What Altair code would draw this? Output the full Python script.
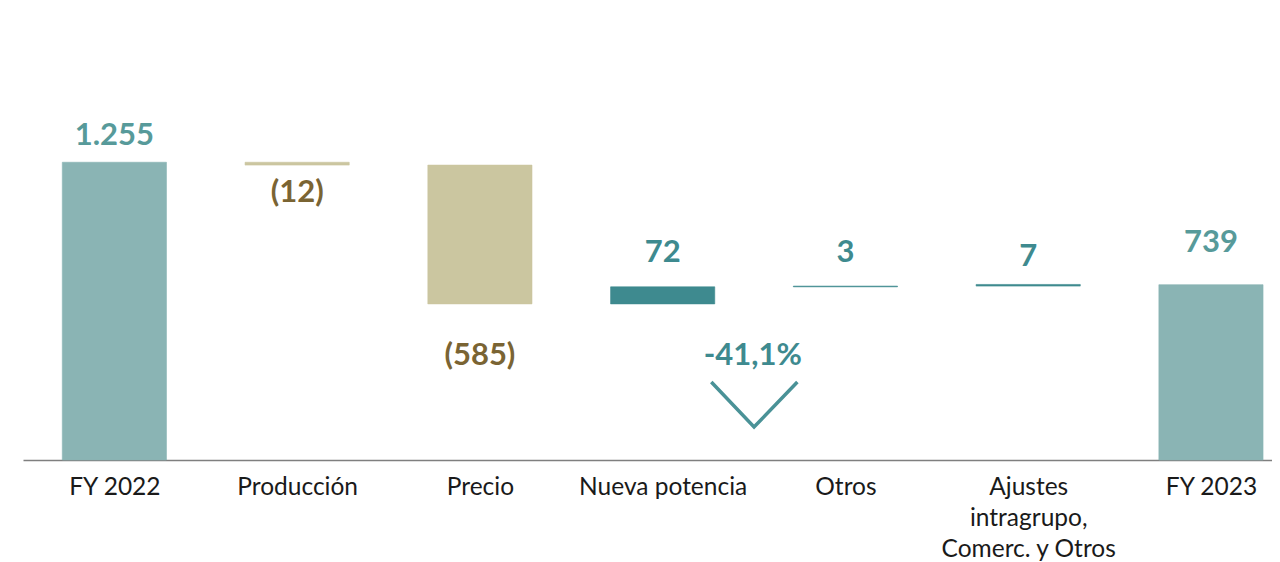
import altair as alt
import pandas as pd

# ---- data ----
categories = ["FY 2022", "Producción", "Precio", "Nueva potencia", "Otros",
              "Ajustes\nintragrupo,\nComerc. y Otros", "FY 2023"]
values = [1255, -12, -585, 72, 3, 7, 739]
kinds = ["total", "decrease", "decrease", "increase", "increase", "increase", "total"]
value_labels = ["1.255", "(12)", "(585)", "72", "3", "7", "739"]
change_label = "-41,1%"

# ---- styles ----
bar_colors = {"total": "#8ab4b4", "decrease": "#cbc6a0", "increase": "#3e8a8f"}
text_colors = {"total": "#579a9a", "decrease": "#7a6433", "increase": "#3e8a8f"}
label_gap_px = [26, 28, 52, 34, 33, 27, 42]

PLOT_W, PLOT_H = 1249, 344
Y_MAX = 1450
X_DOM = [-0.5, 6.334]
HALF_BAR = 0.285
px_per_unit = PLOT_H / Y_MAX

rows = []
running = 0
for i, (cat, v, k, lab) in enumerate(zip(categories, values, kinds, value_labels)):
    if k == "total":
        start, end = 0, v
        running = v
    else:
        start, end = running, running + v
        running = end
    lo, hi = min(start, end), max(start, end)
    gap = label_gap_px[i] / px_per_unit
    ly = lo - gap if k == "decrease" else hi + gap
    rows.append(dict(idx=i, x0=i - HALF_BAR, x1=i + HALF_BAR, start=start, end=end,
                     kind=k, label=lab, label_y=ly))
df = pd.DataFrame(rows)

label_arrays = "[" + ",".join(
    "[" + ",".join("'" + part + "'" for part in c.split("\n")) + "]" for c in categories
) + "][datum.value]"

xscale = alt.Scale(domain=X_DOM, nice=False, zero=False)
yscale = alt.Scale(domain=[0, Y_MAX], nice=False)

kind_order = ["total", "decrease", "increase"]

bars = alt.Chart(df).mark_rect(strokeWidth=0.6).encode(
    x=alt.X("x0:Q", scale=xscale, axis=alt.Axis(
        values=list(range(len(categories))), labelExpr=label_arrays, title=None,
        ticks=False, grid=False, domainColor="#7f7f7f", domainWidth=1.5,
        labelFont="Lato", labelFontSize=24.5, labelColor="#1a1a1a",
        labelPadding=15, labelLineHeight=31, labelBaseline="top",
        labelOverlap=False, labelBound=False, labelFlush=False)),
    x2="x1:Q",
    y=alt.Y("start:Q", scale=yscale, axis=None),
    y2="end:Q",
    color=alt.Color("kind:N", scale=alt.Scale(domain=kind_order,
                    range=[bar_colors[k] for k in kind_order]), legend=None),
    stroke=alt.Stroke("kind:N", scale=alt.Scale(domain=kind_order,
                      range=[bar_colors[k] for k in kind_order]), legend=None),
)

texts = alt.Chart(df).mark_text(font="Lato", fontWeight="bold", fontSize=31,
                                baseline="middle", align="center").encode(
    x=alt.X("idx:Q", scale=xscale),
    y=alt.Y("label_y:Q", scale=yscale),
    text="label:N",
    color=alt.Color("kind:N", scale=alt.Scale(domain=kind_order,
                    range=[text_colors[k] for k in kind_order]), legend=None),
)

# change annotation: chevron between "Nueva potencia" and "Otros"
chev_x = [3.266, 3.5, 3.737]
chev_y = [329, 139, 329]
chev = pd.DataFrame({"x": chev_x, "y": chev_y, "o": [0, 1, 2]})
chevron = alt.Chart(chev).mark_line(color="#4a9297", strokeWidth=3.5).encode(
    x=alt.X("x:Q", scale=xscale), y=alt.Y("y:Q", scale=yscale), order="o:Q")

pct = alt.Chart(pd.DataFrame({"x": [3.493], "y": [437], "t": [change_label]})).mark_text(
    font="Lato", fontWeight="bold", fontSize=31, color="#3e8a8f",
    baseline="middle", align="center").encode(
    x=alt.X("x:Q", scale=xscale), y=alt.Y("y:Q", scale=yscale), text="t:N")

chart = alt.layer(bars, texts, chevron, pct).properties(
    width=PLOT_W, height=PLOT_H,
    padding={"left": 15, "top": 108, "right": 0, "bottom": 0},
).resolve_scale(color="independent").configure_view(stroke=None)

chart.save("out.html", embed_options={"renderer": "svg", "actions": False})
